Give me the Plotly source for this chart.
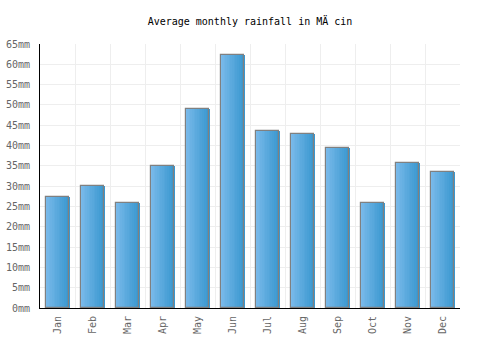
import plotly.graph_objects as go

months = ["Jan", "Feb", "Mar", "Apr", "May", "Jun", "Jul", "Aug", "Sep", "Oct", "Nov", "Dec"]
rainfall = [27.4, 30.1, 25.9, 35.0, 49.1, 62.4, 43.6, 42.9, 39.5, 25.9, 35.8, 33.6]
ytick_vals = list(range(0, 70, 5))
ytick_text = [f"{v}mm" for v in ytick_vals]

xpos = list(range(len(months)))
fig = go.Figure()

bar_w = 0.68
n = 14
c0 = (122, 186, 234)
c1 = (58, 152, 208)
sw = bar_w / n
for i in range(n):
    t = i / (n - 1)
    col = "rgb(%d,%d,%d)" % tuple(round(a + (b - a) * t) for a, b in zip(c0, c1))
    fig.add_trace(go.Bar(x=xpos, y=rainfall, width=sw * 1.15, offset=-bar_w / 2 + i * sw,
                         marker=dict(color=col, line=dict(width=0)), hoverinfo="skip",
                         showlegend=False))
fig.add_trace(go.Bar(x=xpos, y=rainfall, width=bar_w, offset=-bar_w / 2,
                     marker=dict(color="rgba(0,0,0,0)", line=dict(color="#808080", width=1.2)),
                     showlegend=False, name="Rainfall"))

font = "DejaVu Sans Mono"
fig.update_layout(
    width=500, height=350,
    margin=dict(l=40, r=40, t=44, b=42),
    paper_bgcolor="white", plot_bgcolor="white",
    barmode="overlay", bargap=0,
    title=dict(text="Average monthly rainfall in MÄ cin", x=0.5, xanchor="center",
               y=1 - 21 / 350, yanchor="middle",
               font=dict(family=font, size=10, color="#000")),
    xaxis=dict(range=[-0.5, 11.5], tickvals=xpos, ticktext=months, tickangle=-90,
               showgrid=False, showline=True, linecolor="#000", linewidth=1,
               ticks="outside", ticklen=3, tickcolor="rgba(0,0,0,0)",
               tickfont=dict(family=font, size=10, color="#666"), automargin=False,
               minor=dict(tick0=0.5, dtick=1, showgrid=True, gridcolor="#eeeeee", gridwidth=1),
               zeroline=False),
    yaxis=dict(range=[0, 65], tickvals=ytick_vals, ticktext=ytick_text,
               showgrid=True, gridcolor="#eeeeee", gridwidth=1,
               showline=True, linecolor="#000", linewidth=1,
               ticks="outside", ticklen=7, tickcolor="rgba(0,0,0,0)", automargin=False,
               tickfont=dict(family=font, size=10, color="#666"), zeroline=False),
)

fig.write_html("out.html")
